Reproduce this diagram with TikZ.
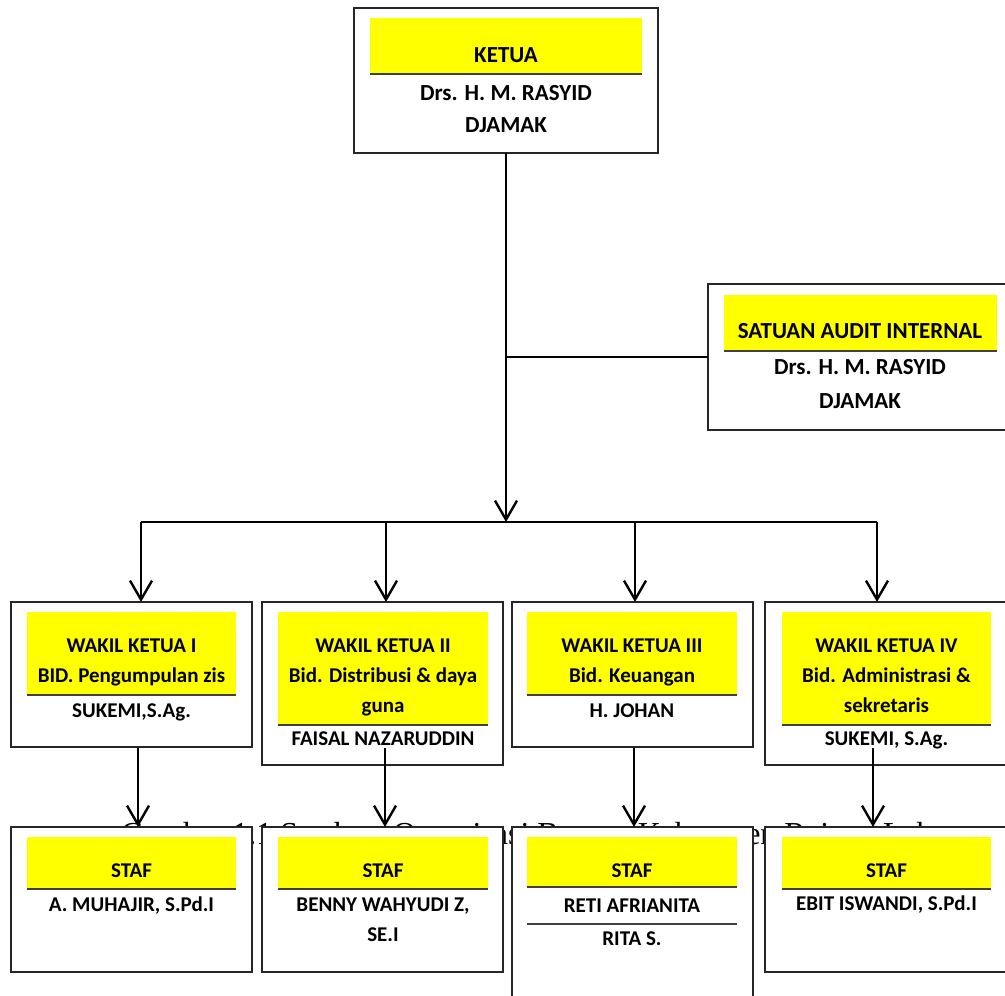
\documentclass[tikz,border=0pt]{standalone}
\usepackage{fontspec}
\setmainfont{Carlito}
\newfontfamily\capfont{Liberation Serif}
\usetikzlibrary{arrows.meta}
\definecolor{yel}{RGB}{255,255,0}
\tikzset{
  frame/.style={draw=black!85, line width=1.4pt, fill=white, inner sep=0pt, outer sep=0pt, anchor=north west},
  ybox/.style={fill=yel, draw=none, inner sep=0pt, outer sep=0pt, anchor=north west},
  yline/.style={draw=black!75, line width=1.8pt},
  big/.style={anchor=base, inner sep=0pt, font=\bfseries\fontsize{23}{27}\selectfont},
  txt/.style={anchor=base, inner sep=0pt, font=\bfseries\fontsize{21}{25}\selectfont},
  conn/.style={draw=black, line width=2.4pt},
  arr/.style={conn, -{Straight Barb[length=19pt,width=22pt]}}
}
\begin{document}
\begin{tikzpicture}[x=1pt,y=-1pt]
\useasboundingbox (0,0) rectangle (1005,996);
\clip (0,0) rectangle (1005,996);

% caption behind the staff boxes
\node[anchor=base west, inner sep=0pt, font=\capfont\fontsize{32}{38}\selectfont] (cap) at (121,844) {Gambar 1.1 Struktur Organisasi Baznas Kabupaten Rejang Lebong};

% KETUA
\node[frame, minimum width=304pt, minimum height=145pt] (ketua) at (354,8) {};
\node[ybox, minimum width=272pt, minimum height=56pt] (yk) at (370,18) {};
\draw[yline] (yk.south west) -- (yk.south east);
\node[big] (tk1) at (506,62) {KETUA};
\node[big] (tk2) at (506,100) {Drs. H. M. RASYID};
\node[big] (tk3) at (506,132) {DJAMAK};

% SATUAN AUDIT INTERNAL
\node[frame, minimum width=302pt, minimum height=146pt] (sai) at (708,284) {};
\node[ybox, minimum width=273pt, minimum height=56pt] (ys) at (724,295) {};
\draw[yline] (ys.south west) -- (ys.south east);
\node[big] (ts1) at (860,338) {SATUAN AUDIT INTERNAL};
\node[big] (ts2) at (860,374) {Drs. H. M. RASYID};
\node[big] (ts3) at (860,408) {DJAMAK};

% WAKIL boxes
\node[frame, minimum width=241pt, minimum height=145pt] (w1) at (11,602) {};
\node[ybox, minimum width=209pt, minimum height=83pt] (yw1) at (27,612) {};
\draw[yline] (yw1.south west) -- (yw1.south east);
\node[txt] (w1a) at (131.5,652) {WAKIL KETUA I};
\node[txt] (w1b) at (131.5,682) {BID. Pengumpulan zis};
\node[txt] (w1c) at (131.5,717) {SUKEMI,S.Ag.};

\node[frame, minimum width=241pt, minimum height=163pt] (w2) at (262,602) {};
\node[ybox, minimum width=210pt, minimum height=113pt] (yw2) at (278,612) {};
\draw[yline] (yw2.south west) -- (yw2.south east);
\node[txt] (w2a) at (383,652) {WAKIL KETUA II};
\node[txt] (w2b) at (383,682) {Bid. Distribusi \& daya};
\node[txt] (w2c) at (383,712) {guna};
\node[txt] (w2d) at (383,745) {FAISAL NAZARUDDIN};

\node[frame, minimum width=241pt, minimum height=145pt] (w3) at (512,602) {};
\node[ybox, minimum width=210pt, minimum height=83pt] (yw3) at (527,612) {};
\draw[yline] (yw3.south west) -- (yw3.south east);
\node[txt] (w3a) at (632,652) {WAKIL KETUA III};
\node[txt] (w3b) at (632,682) {Bid. Keuangan};
\node[txt] (w3c) at (632,717) {H. JOHAN};

\node[frame, minimum width=250pt, minimum height=163pt] (w4) at (765,602) {};
\node[ybox, minimum width=209pt, minimum height=113pt] (yw4) at (782,612) {};
\draw[yline] (yw4.south west) -- (yw4.south east);
\node[txt] (w4a) at (886.5,652) {WAKIL KETUA IV};
\node[txt] (w4b) at (886.5,682) {Bid. Administrasi \&};
\node[txt] (w4c) at (886.5,712) {sekretaris};
\node[txt] (w4d) at (886.5,745) {SUKEMI, S.Ag.};

% STAF boxes
\node[frame, minimum width=241pt, minimum height=145pt] (s1) at (11,827) {};
\node[ybox, minimum width=209pt, minimum height=52pt] (ys1) at (27,837) {};
\draw[yline] (ys1.south west) -- (ys1.south east);
\node[txt] (s1a) at (131.5,877) {STAF};
\node[txt] (s1b) at (131.5,911) {A. MUHAJIR, S.Pd.I};

\node[frame, minimum width=241pt, minimum height=145pt] (s2) at (262,827) {};
\node[ybox, minimum width=210pt, minimum height=52pt] (ys2) at (278,837) {};
\draw[yline] (ys2.south west) -- (ys2.south east);
\node[txt] (s2a) at (383,877) {STAF};
\node[txt] (s2b) at (383,911) {BENNY WAHYUDI Z,};
\node[txt] (s2c) at (383,941) {SE.I};

\node[frame, minimum width=241pt, minimum height=190pt] (s3) at (512,827) {};
\node[ybox, minimum width=210pt, minimum height=50pt] (ys3) at (527,837) {};
\draw[yline] (ys3.south west) -- (ys3.south east);
\node[txt] (s3a) at (632,877) {STAF};
\node[txt] (s3b) at (632,912) {RETI AFRIANITA};
\coordinate (sepL) at (527,924);
\coordinate (sepR) at (737,924);
\draw[draw=black!75, line width=1.4pt] (sepL) -- (sepR);
\node[txt] (s3c) at (632,945) {RITA S.};

\node[frame, minimum width=250pt, minimum height=145pt] (s4) at (765,827) {};
\node[ybox, minimum width=209pt, minimum height=52pt] (ys4) at (782,837) {};
\draw[yline] (ys4.south west) -- (ys4.south east);
\node[txt] (s4a) at (886.5,877) {STAF};
\node[txt] (s4b) at (886.5,910) {EBIT ISWANDI, S.Pd.I};

% connectors
\coordinate (bar) at (506,522);
\coordinate (b1) at (141,522);
\coordinate (b2) at (386,522);
\coordinate (b3) at (635,522);
\coordinate (b4) at (877,522);
\draw[arr] (ketua.south) -- (bar);
\draw[conn] (ketua.south |- sai.west) -- (sai.west);
\draw[conn] (b1) -- (b4);
\draw[arr] (b1) -- (b1 |- w1.north);
\draw[arr] (b2) -- (b2 |- w2.north);
\draw[arr] (b3) -- (b3 |- w3.north);
\draw[arr] (b4) -- (b4 |- w4.north);

\coordinate (c1) at (138,748);
\coordinate (c2) at (385,748);
\coordinate (c3) at (634,748);
\coordinate (c4) at (873,748);
\draw[arr] (c1) -- (c1 |- s1.north);
\draw[arr] (c2) -- (c2 |- s2.north);
\draw[arr] (c3) -- (c3 |- s3.north);
\draw[arr] (c4) -- (c4 |- s4.north);
\end{tikzpicture}
\end{document}
